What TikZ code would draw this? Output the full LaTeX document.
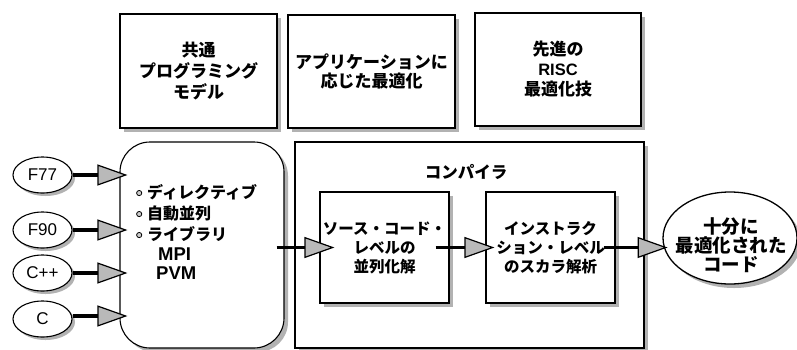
\documentclass[tikz,border=0pt]{standalone}
\usepackage{fontspec}
\setmainfont{Noto Sans CJK JP}
\newfontfamily\lat{Liberation Sans}
\usetikzlibrary{arrows.meta,shapes.geometric}
\tikzset{
  shdcol/.style={fill=gray!60,draw=none,inner sep=0pt},
  boxs/.style={draw,line width=1.1pt,fill=white,inner sep=0pt,align=center},
  ovl/.style={ellipse,draw,line width=1.1pt,fill=white,inner sep=0pt,minimum width=59pt,minimum height=36pt,font=\lat\fontsize{17}{18}\selectfont},
  ovls/.style={ellipse,shdcol,minimum width=59pt,minimum height=36pt},
  bigarrow/.style={line width=3.5pt,-{Triangle[length=30pt,width=21pt,fill=gray!55,line width=1.2pt]}},
}
\newcommand{\bul}{\tikz[baseline=-0.6ex]\draw[line width=0.8pt,fill=gray!40] (0,0) circle (2.6pt);}
\begin{document}
\begin{tikzpicture}[x=1pt,y=-1pt]
\fill[white] (0,0) rectangle (797,349);
\useasboundingbox (0,0) rectangle (797,349);
% shadows (drawn first)
\node[shdcol,minimum width=157pt,minimum height=114pt] (t1s) at (202.5,75) {};
\node[shdcol,minimum width=167pt,minimum height=113pt] (t2s) at (375.5,75.5) {};
\node[shdcol,minimum width=166pt,minimum height=113pt] (t3s) at (562,73.5) {};
\node[shdcol,rounded corners=30pt,minimum width=164pt,minimum height=206pt] (rbs) at (206,249) {};
\node[shdcol,minimum width=349pt,minimum height=206pt] (cmps) at (473.5,249) {};
\node[shdcol,ellipse,minimum width=134pt,minimum height=92pt] (outs) at (734,242) {};
\node[ovls] (f77s) at (45.5,178) {};
\node[ovls] (f90s) at (45.5,233) {};
\node[ovls] (cpps) at (45.5,276) {};
\node[ovls] (cs) at (45.5,322) {};
% top boxes
\node[boxs,minimum width=157pt,minimum height=114pt,font=\bfseries\fontsize{17}{21}\selectfont] (t1) at (198.5,71) {共通\\プログラミング\\モデル};
\node[boxs,minimum width=167pt,minimum height=113pt,font=\bfseries\fontsize{17}{19}\selectfont] (t2) at (371.5,71.5) {アプリケーションに\\応じた最適化};
\node[boxs,minimum width=166pt,minimum height=113pt,font=\bfseries\fontsize{17}{20}\selectfont] (t3) at (558,69.5) {先進の\\{\lat\fontsize{16.5}{20}\selectfont RISC}\\最適化技};
% rounded box
\node[boxs,rounded corners=30pt,minimum width=164pt,minimum height=206pt] (rb) at (202,245) {};
\node[anchor=north west,align=left,inner sep=0pt,font=\bfseries\fontsize{16}{21}\selectfont] (rbt) at (136,184)
  {\bul\hspace{5pt}ディレクティブ\\ \bul\hspace{5pt}自動並列\\ \bul\hspace{5pt}ライブラリ\\[-1pt]
   \hspace{22pt}{\lat\fontsize{18.5}{19}\selectfont MPI}\\[-2pt] \hspace{20pt}{\lat\fontsize{18.5}{19}\selectfont PVM}};
% compiler
\node[boxs,minimum width=349pt,minimum height=206pt] (cmp) at (469.5,245) {};
\node[font=\bfseries\fontsize{16.5}{20}\selectfont,inner sep=0pt] (cmpl) at (466,172) {コンパイラ};
\node[shdcol,minimum width=129pt,minimum height=111pt] (bas) at (388,251) {};
\node[shdcol,minimum width=129pt,minimum height=111pt] (bbs) at (554,251) {};
\node[boxs,minimum width=129pt,minimum height=111pt,font=\bfseries\fontsize{15.5}{19}\selectfont] (ba) at (384.5,247.5) {ソース・コード・\\レベルの\\並列化解};
\node[boxs,minimum width=129pt,minimum height=111pt,font=\bfseries\fontsize{15.5}{19}\selectfont] (bb) at (550.5,247.5) {インストラク\\ション・レベル\\のスカラ解析};
% output
\node[ellipse,draw,line width=1.3pt,fill=white,inner sep=0pt,minimum width=134pt,minimum height=92pt] (out) at (730,238) {};
\node[align=center,inner sep=0pt,font=\bfseries\fontsize{18.5}{19}\selectfont] (outt) at (731,245) {十分に\\最適化された\\コード};
% language ovals
\node[ovl] (f77) at (42.5,175) {F77};
\node[ovl] (f90) at (42.5,230) {F90};
\node[ovl] (cpp) at (42.5,273) {C++};
\node[ovl] (c) at (42.5,319) {C};
% arrows
\draw[bigarrow] (f77.east) -- ([xshift=8pt]f77.east -| rb.west);
\draw[bigarrow] (f90.east) -- ([xshift=8pt]f90.east -| rb.west);
\draw[bigarrow] (cpp.east) -- ([xshift=8pt]cpp.east -| rb.west);
\draw[bigarrow] ([yshift=3pt]c.east) -- ([xshift=8pt,yshift=3pt]c.east -| rb.west);
\draw[bigarrow] ([xshift=-8pt]rb.east |- ba.west) -- ([xshift=15pt]ba.west);
\draw[bigarrow] ([xshift=-14pt]ba.east) -- ([xshift=9pt]bb.west);
\draw[bigarrow] ([xshift=-12pt]bb.east) -- ([xshift=52pt]bb.east);
\end{tikzpicture}
\end{document}
